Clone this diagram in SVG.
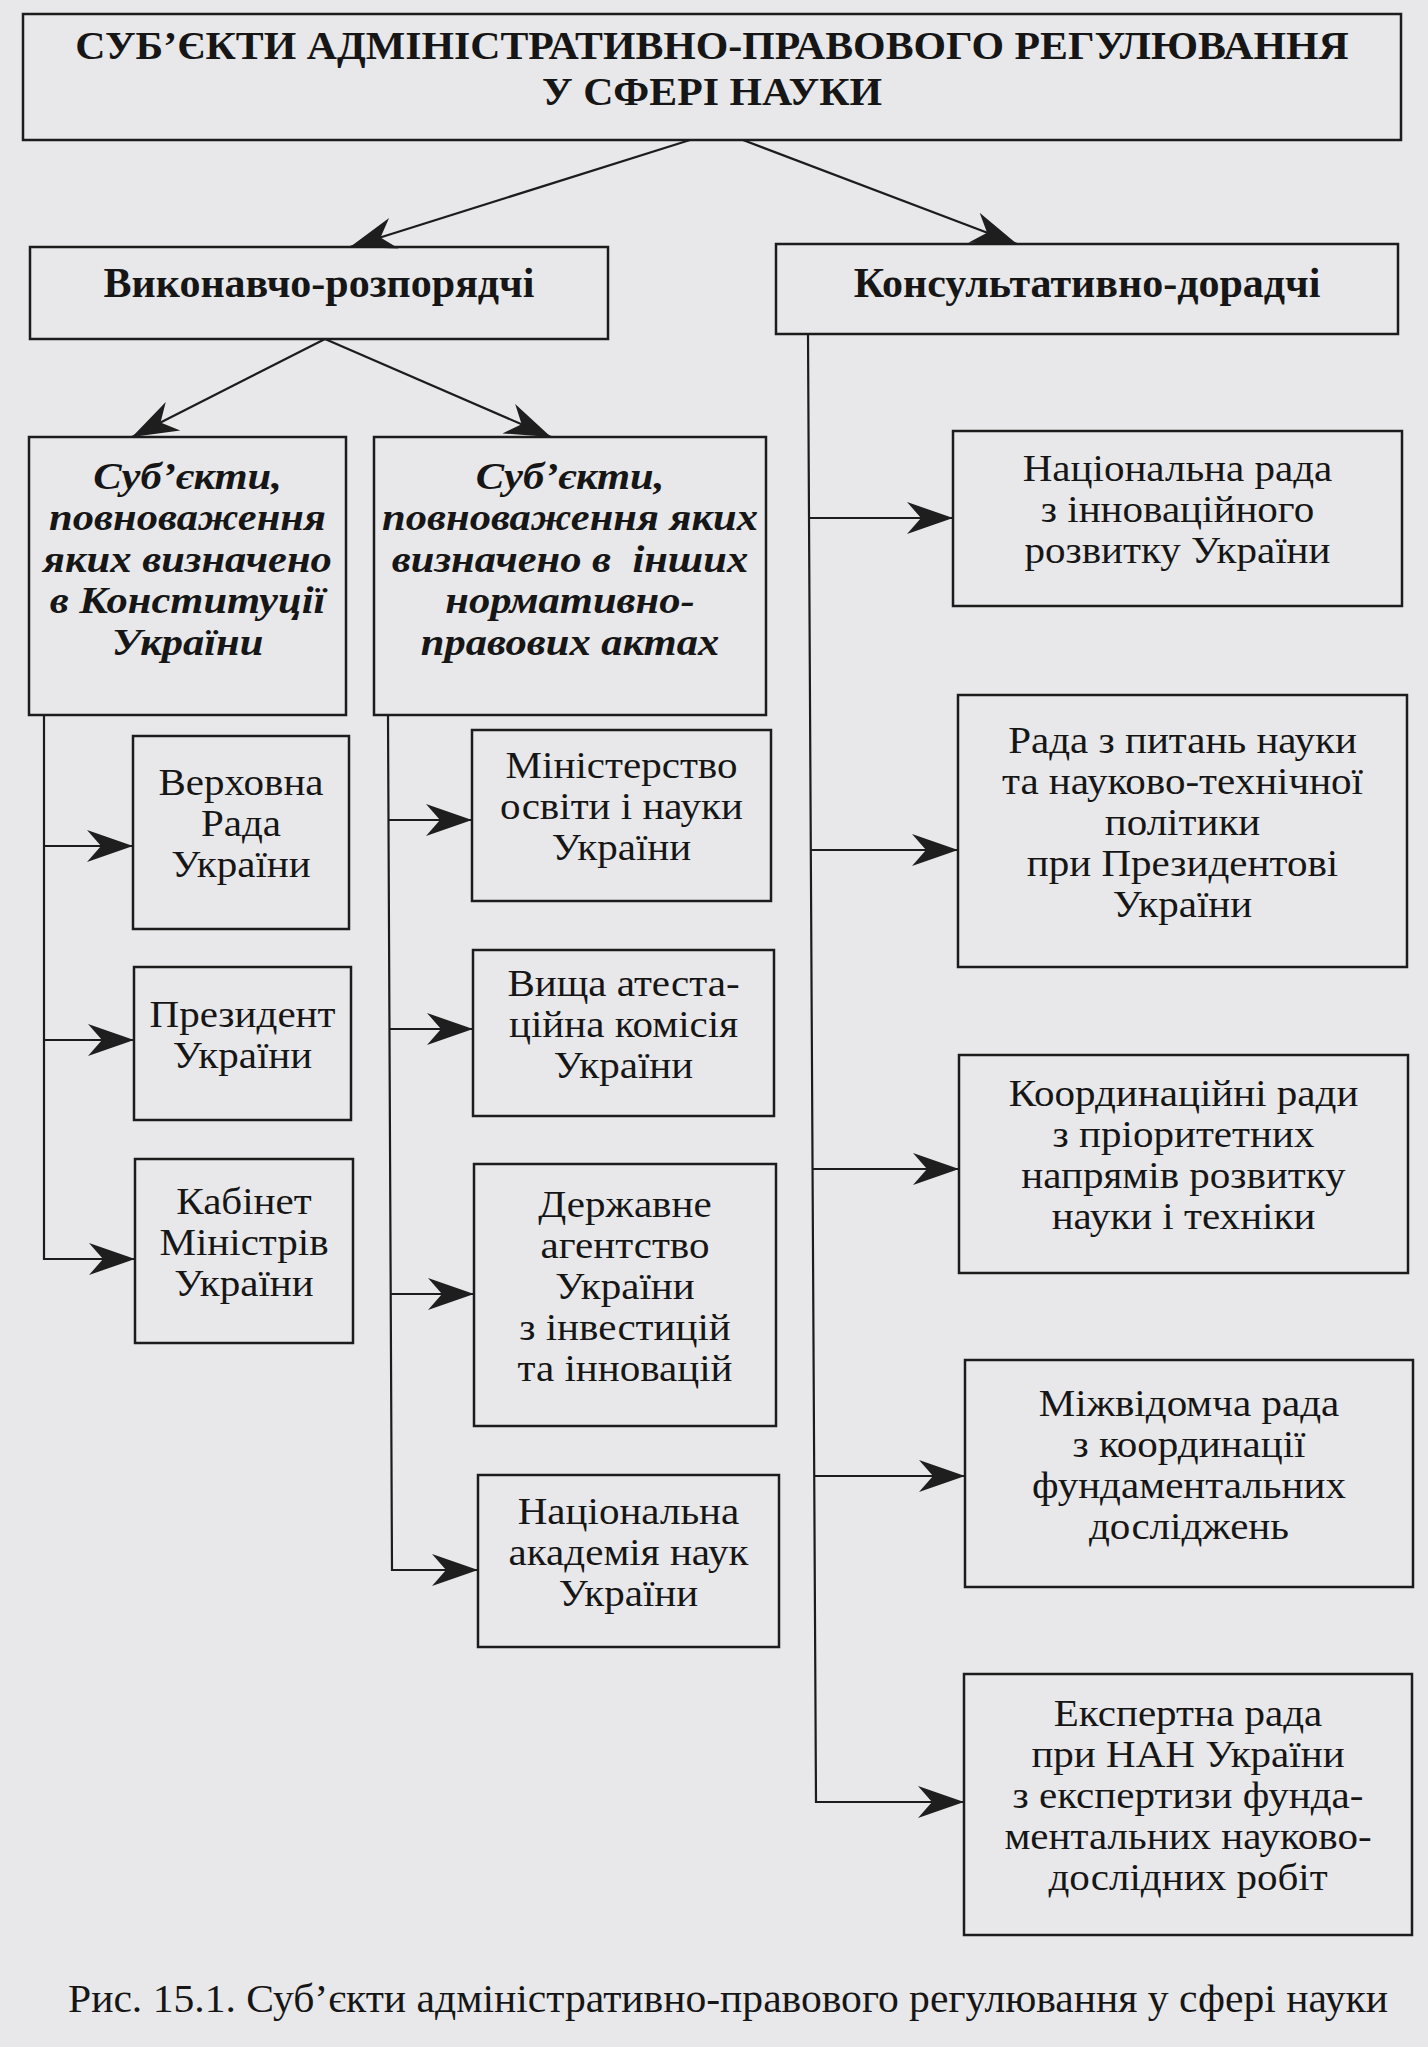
<svg xmlns="http://www.w3.org/2000/svg" width="1428" height="2047" viewBox="0 0 1428 2047">
<style>
.bg{fill:#e8e8ea}
.box{fill:none;stroke:#1c1c1c;stroke-width:2.5}
.cn{fill:none;stroke:#1c1c1c;stroke-width:2.2;marker-end:url(#ah)}
text{font-family:"Liberation Serif","Times New Roman",serif;fill:#161616}
.title{font-weight:bold;font-size:41px;text-anchor:middle}
.head{font-weight:bold;font-size:42px;text-anchor:middle}
.it{font-weight:bold;font-style:italic;font-size:38px;text-anchor:middle}
.reg{font-size:38px;text-anchor:middle}
.cap{font-size:40px}
</style>
<defs>
<marker id="ah" markerUnits="userSpaceOnUse" markerWidth="48" markerHeight="34" refX="46" refY="16" orient="auto" overflow="visible">
<path d="M0,0 L46,16 L0,32 L14,16 Z" fill="#1e1e1e"/>
</marker>
</defs>
<rect class="bg" x="0" y="0" width="1428" height="2047"/>

<g id="connectors">
<path class="cn" d="M690,140 L350,247"/>
<path class="cn" d="M743,140 L1017,244"/>
<path class="cn" d="M325,339 L132,437"/>
<path class="cn" d="M325,339 L551,437"/>
<path class="cn" d="M44,715 V1259 H135"/>
<path class="cn" d="M44,846 H133"/>
<path class="cn" d="M44,1040 H134"/>
<path class="cn" d="M388,715 L392,1570 H478"/>
<path class="cn" d="M389,820 H472"/>
<path class="cn" d="M389,1029 H473"/>
<path class="cn" d="M390,1294 H474"/>
<path class="cn" d="M808,334 L816,1802 H964"/>
<path class="cn" d="M809,518 H953"/>
<path class="cn" d="M810,850 H958"/>
<path class="cn" d="M812,1169 H959"/>
<path class="cn" d="M814,1476 H965"/>
</g>

<g id="title">
<rect class="box" x="23" y="14" width="1378" height="126"/>
<text class="title" transform="translate(712,0) scale(1.02,1)"><tspan x="0" y="59">СУБ’ЄКТИ АДМІНІСТРАТИВНО-ПРАВОВОГО РЕГУЛЮВАННЯ</tspan><tspan x="0" y="105">У СФЕРІ НАУКИ</tspan></text>
</g>

<g id="vykonavcho">
<rect class="box" x="30" y="247" width="578" height="92"/>
<text class="head" x="319" y="297">Виконавчо-розпорядчі</text>
</g>

<g id="konsult">
<rect class="box" x="776" y="244" width="622" height="90"/>
<text class="head" x="1087" y="297">Консультативно-дорадчі</text>
</g>

<g id="konstytutsiia">
<rect class="box" x="29" y="437" width="317" height="278"/>
<text class="it" transform="translate(187.5,0) scale(1.12,1)"><tspan x="0" y="489">Суб’єкти,</tspan><tspan x="0" y="530.5">повноваження</tspan><tspan x="0" y="572">яких визначено</tspan><tspan x="0" y="613.5">в Конституції</tspan><tspan x="0" y="655">України</tspan></text>
</g>

<g id="inshi-akty">
<rect class="box" x="374" y="437" width="392" height="278"/>
<text class="it" transform="translate(570,0) scale(1.12,1)" xml:space="preserve"><tspan x="0" y="489">Суб’єкти,</tspan><tspan x="0" y="530.5">повноваження яких</tspan><tspan x="0" y="572">визначено в  інших</tspan><tspan x="0" y="613.5">нормативно-</tspan><tspan x="0" y="655">правових актах</tspan></text>
</g>

<g id="verkhovna-rada">
<rect class="box" x="133" y="736" width="216" height="193"/>
<text class="reg" transform="translate(241,0) scale(1.08,1)"><tspan x="0" y="795.5">Верховна</tspan><tspan x="0" y="836.5">Рада</tspan><tspan x="0" y="877.5">України</tspan></text>
</g>

<g id="prezydent">
<rect class="box" x="134" y="967" width="217" height="153"/>
<text class="reg" transform="translate(242.5,0) scale(1.08,1)"><tspan x="0" y="1027">Президент</tspan><tspan x="0" y="1068">України</tspan></text>
</g>

<g id="kabmin">
<rect class="box" x="135" y="1159" width="218" height="184"/>
<text class="reg" transform="translate(244,0) scale(1.08,1)"><tspan x="0" y="1214">Кабінет</tspan><tspan x="0" y="1255">Міністрів</tspan><tspan x="0" y="1296">України</tspan></text>
</g>

<g id="mon">
<rect class="box" x="472" y="730" width="299" height="171"/>
<text class="reg" transform="translate(621.5,0) scale(1.08,1)"><tspan x="0" y="778.5">Міністерство</tspan><tspan x="0" y="819.5">освіти і науки</tspan><tspan x="0" y="860.5">України</tspan></text>
</g>

<g id="vak">
<rect class="box" x="473" y="950" width="301" height="166"/>
<text class="reg" transform="translate(623.5,0) scale(1.08,1)"><tspan x="0" y="996">Вища атеста-</tspan><tspan x="0" y="1037">ційна комісія</tspan><tspan x="0" y="1078">України</tspan></text>
</g>

<g id="derzhagentstvo">
<rect class="box" x="474" y="1164" width="302" height="262"/>
<text class="reg" transform="translate(625,0) scale(1.08,1)"><tspan x="0" y="1217">Державне</tspan><tspan x="0" y="1258">агентство</tspan><tspan x="0" y="1299">України</tspan><tspan x="0" y="1340">з інвестицій</tspan><tspan x="0" y="1381">та інновацій</tspan></text>
</g>

<g id="nan">
<rect class="box" x="478" y="1475" width="301" height="172"/>
<text class="reg" transform="translate(628.5,0) scale(1.08,1)"><tspan x="0" y="1524">Національна</tspan><tspan x="0" y="1565">академія наук</tspan><tspan x="0" y="1606">України</tspan></text>
</g>

<g id="nats-rada">
<rect class="box" x="953" y="431" width="449" height="175"/>
<text class="reg" transform="translate(1177.5,0) scale(1.08,1)"><tspan x="0" y="481.5">Національна рада</tspan><tspan x="0" y="522.5">з інноваційного</tspan><tspan x="0" y="563.5">розвитку України</tspan></text>
</g>

<g id="rada-nauky">
<rect class="box" x="958" y="695" width="449" height="272"/>
<text class="reg" transform="translate(1182.5,0) scale(1.08,1)"><tspan x="0" y="753">Рада з питань науки</tspan><tspan x="0" y="794">та науково-технічної</tspan><tspan x="0" y="835">політики</tspan><tspan x="0" y="876">при Президентові</tspan><tspan x="0" y="917">України</tspan></text>
</g>

<g id="koord-rady">
<rect class="box" x="959" y="1055" width="449" height="218"/>
<text class="reg" transform="translate(1183.5,0) scale(1.08,1)"><tspan x="0" y="1106.5">Координаційні ради</tspan><tspan x="0" y="1147.5">з пріоритетних</tspan><tspan x="0" y="1188.5">напрямів розвитку</tspan><tspan x="0" y="1229.5">науки і техніки</tspan></text>
</g>

<g id="mizhvidomcha">
<rect class="box" x="965" y="1360" width="448" height="227"/>
<text class="reg" transform="translate(1189,0) scale(1.08,1)"><tspan x="0" y="1416">Міжвідомча рада</tspan><tspan x="0" y="1457">з координації</tspan><tspan x="0" y="1498">фундаментальних</tspan><tspan x="0" y="1539">досліджень</tspan></text>
</g>

<g id="ekspertna">
<rect class="box" x="964" y="1674" width="448" height="261"/>
<text class="reg" transform="translate(1188,0) scale(1.08,1)"><tspan x="0" y="1726.5">Експертна рада</tspan><tspan x="0" y="1767.5">при НАН України</tspan><tspan x="0" y="1808.5">з експертизи фунда-</tspan><tspan x="0" y="1849.5">ментальних науково-</tspan><tspan x="0" y="1890.5">дослідних робіт</tspan></text>
</g>

<text class="cap" x="68" y="2012" textLength="1320" lengthAdjust="spacingAndGlyphs">Рис. 15.1. Суб’єкти адміністративно-правового регулювання у сфері науки</text>
</svg>
